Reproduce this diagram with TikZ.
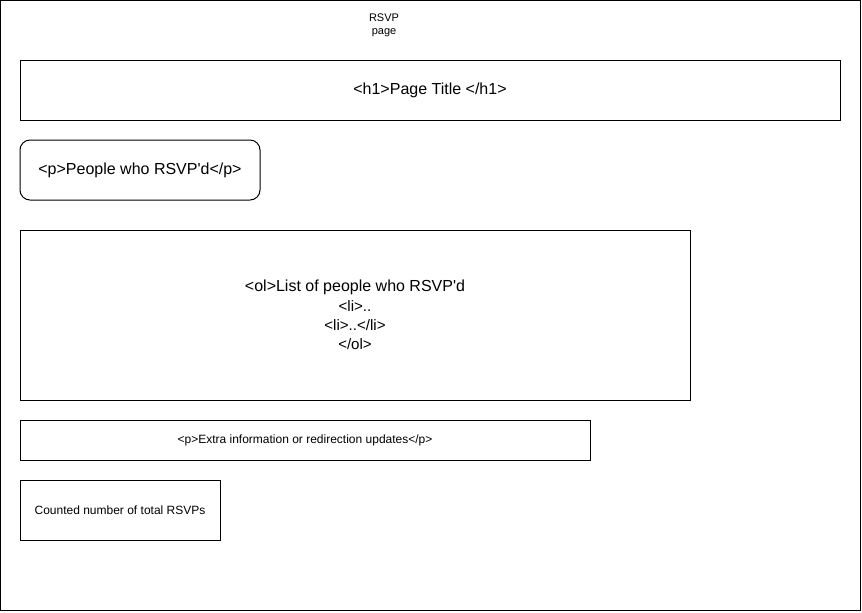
\documentclass[tikz,border=0pt]{standalone}
\usepackage{fontspec}
\setmainfont{Liberation Sans}[Ligatures=TeXOff]
\usetikzlibrary{positioning}

\begin{document}
\begin{tikzpicture}[
		x=0.75pt, y=-0.75pt, line width=0.75pt,
		block/.style={draw, minimum height=45pt, inner sep=0pt, outer sep=0pt, font=\fontsize{12}{14.5}\selectfont},
		small/.style={font=\fontsize{9}{10}\selectfont}
	]
		\useasboundingbox (0,0) rectangle (862,612);
		\draw (0.5,0.5) rectangle (860.5,610.5);

		\node[font=\fontsize{8.25}{10}\selectfont, align=center] (title) at (384,25) {RSVP\\page};
		\node[block, minimum width=615pt, anchor=north west] (h1) at (20,60) {<h1>Page Title </h1>};
		\node[block, rounded corners=7.5pt, minimum width=180pt, below=15pt of h1.south west, anchor=north west] (rsvpd) {<p>People who RSVP'd</p>};
		\node[block, minimum width=502.5pt, minimum height=127.5pt, align=center, below=22.5pt of rsvpd.south west, anchor=north west] (list)
			{\fontsize{12}{14.5}\selectfont <ol>List of people who RSVP'd\\
			\fontsize{11.3}{14.5}\selectfont <li>..\\
			\fontsize{11.3}{14.5}\selectfont <li>..</li>\\
			\fontsize{11.3}{14.5}\selectfont </ol>};
		\node[block, small, minimum width=427.5pt, minimum height=30pt, below=15pt of list.south west, anchor=north west] (extra) {<p>Extra information or redirection updates</p>};
		\node[block, small, minimum width=150pt, below=15pt of extra.south west, anchor=north west] (count) {Counted number of total RSVPs};
	\end{tikzpicture}
\end{document}
